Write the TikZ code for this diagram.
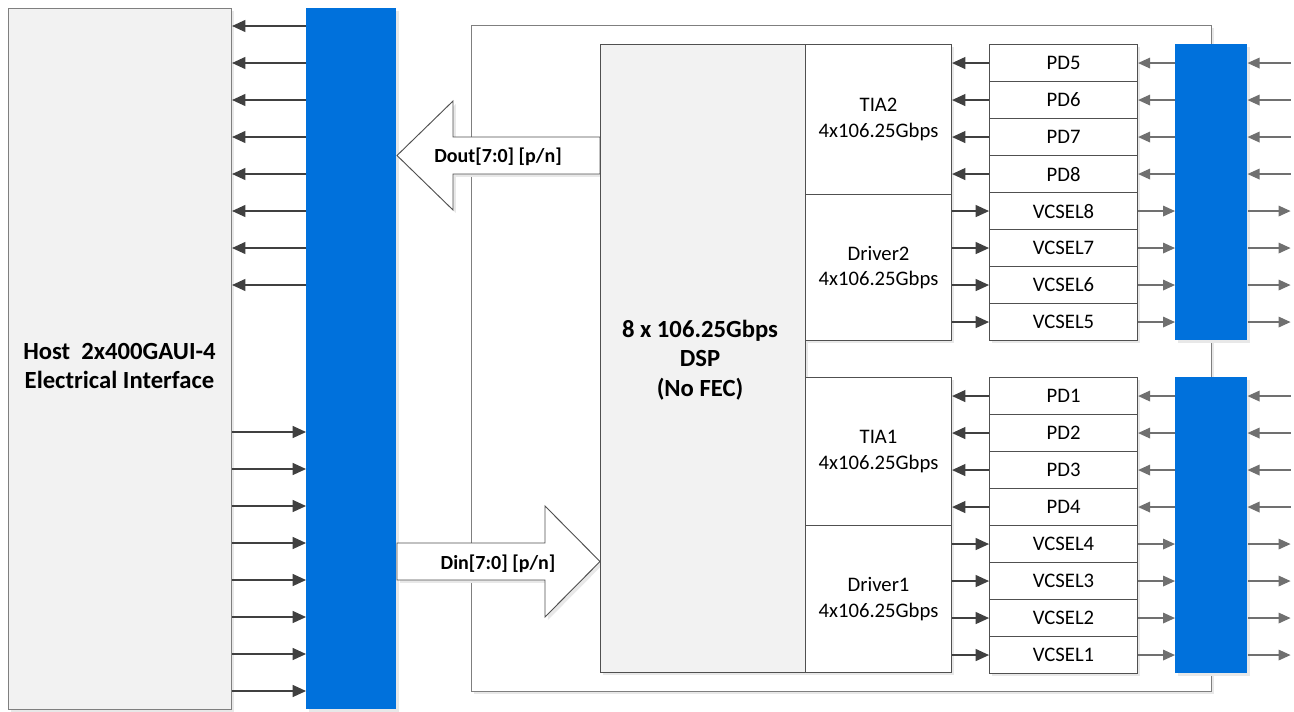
\documentclass[tikz,border=0pt]{standalone}
\usepackage{fontspec}
\setmainfont{Carlito}
\usetikzlibrary{arrows.meta,shadows,calc}
\definecolor{bluebar}{HTML}{0071DC}
\definecolor{boxline}{HTML}{505050}
\definecolor{hostline}{HTML}{7F7F7F}
\definecolor{boxfill}{HTML}{F2F2F2}
\definecolor{darkarr}{HTML}{404040}
\definecolor{grayarr}{HTML}{707070}
\begin{document}
\begin{tikzpicture}[x=0.75pt,y=-0.75pt,
  wh/.style 2 args={minimum width=#1*0.75pt,minimum height=#2*0.75pt},
  shad/.style={drop shadow={shadow xshift=2.2pt,shadow yshift=-2.2pt,fill=black!9,opacity=1}},
  box/.style={draw=boxline,line width=0.8pt,fill=white,inner sep=0pt,anchor=north west,align=center,
    font=\fontsize{15.5}{19}\selectfont,shad},
  graybox/.style={box,fill=boxfill},
  bar/.style={fill=bluebar,draw=none,anchor=north west,inner sep=0pt,shad},
  darr/.style={draw=darkarr,line width=0.9pt,-{Triangle[length=10pt,width=9pt]},fill=darkarr},
  garr/.style={draw=grayarr,line width=0.9pt,-{Triangle[length=9pt,width=8pt]},fill=grayarr},
  bigarr/.style={draw=boxline,line width=0.7pt,fill=white,shad},
  btxt/.style={font=\bfseries\fontsize{15}{21}\selectfont,align=center,inner sep=0pt},
  bigtxt/.style={font=\bfseries\fontsize{18.5}{22.3}\selectfont,align=center,inner sep=0pt}]
\useasboundingbox[fill=white] (0,0) rectangle (1294,711);

% outer module box
\node[box,draw=hostline,wh={740}{666}] (outer) at (471,25) {};

% left blue bar and host
\node[bar,wh={90}{701}] (lbar) at (306,8) {};
\node[graybox,draw=hostline,wh={223}{701}] (host) at (8,8) {};
\node[bigtxt] (hosttxt) at (119.5,366) {Host\ \ 2x400GAUI-4\\Electrical Interface};

% block arrows
\draw[bigarr] (600,137) -- (453,137) -- (453,101) -- (397,155.5) -- (453,210) -- (453,174) -- (600,174) -- cycle;
\node[btxt] (dout) at (498,157) {Dout[7:0] [p/n]};
\draw[bigarr] (397,543) -- (545,543) -- (545,506) -- (600,561.5) -- (545,617) -- (545,580) -- (397,580) -- cycle;
\node[btxt] (din) at (498,564) {Din[7:0] [p/n]};

% DSP and TIA/driver blocks
\node[graybox,wh={205}{628}] (dsp) at (600,44) {};
\node[bigtxt] (dsptxt) at (700,360) {8 x 106.25Gbps\\DSP\\(No FEC)};
\node[box,wh={146}{150}] (tia2) at (805,44) {TIA2\\4x106.25Gbps};
\node[box,wh={146}{146}] (drv2) at (805,194) {Driver2\\4x106.25Gbps};
\node[box,wh={146}{148}] (tia1) at (805,377) {TIA1\\4x106.25Gbps};
\node[box,wh={146}{147}] (drv1) at (805,525) {Driver1\\4x106.25Gbps};

% right blue bars
\node[bar,wh={72}{296}] (rbar1) at (1175,44) {};
\node[bar,wh={72}{296}] (rbar2) at (1175,377) {};

% PD / VCSEL rows
\foreach \nm/\tx [count=\i from 0] in {pd5/PD5,pd6/PD6,pd7/PD7,pd8/PD8,vc8/VCSEL8,vc7/VCSEL7,vc6/VCSEL6,vc5/VCSEL5}{
  \pgfmathsetmacro\yy{44+37*\i}
  \node[box,wh={148}{37}] (\nm) at (989,\yy) {\tx};
}
\foreach \nm/\tx [count=\i from 0] in {pd1/PD1,pd2/PD2,pd3/PD3,pd4/PD4,vc4/VCSEL4,vc3/VCSEL3,vc2/VCSEL2,vc1/VCSEL1}{
  \pgfmathsetmacro\yy{377+37*\i}
  \node[box,wh={148}{37}] (\nm) at (989,\yy) {\tx};
}

% receive lanes
\foreach \p/\t/\b in {pd5/tia2/rbar1,pd6/tia2/rbar1,pd7/tia2/rbar1,pd8/tia2/rbar1,pd1/tia1/rbar2,pd2/tia1/rbar2,pd3/tia1/rbar2,pd4/tia1/rbar2}{
  \draw[darr] (\p.west) -- (\p.west -| \t.east);
  \draw[garr] (\b.west |- \p.east) -- (\p.east);
  \coordinate (\p in) at ($(\b.east |- \p.east)+(43,0)$);
  \draw[garr] (\p in) -- (\b.east |- \p.east);
}
% transmit lanes
\foreach \v/\d/\b in {vc8/drv2/rbar1,vc7/drv2/rbar1,vc6/drv2/rbar1,vc5/drv2/rbar1,vc4/drv1/rbar2,vc3/drv1/rbar2,vc2/drv1/rbar2,vc1/drv1/rbar2}{
  \draw[darr] (\d.east |- \v.west) -- (\v.west);
  \draw[garr] (\v.east) -- (\b.west |- \v.east);
  \coordinate (\v out) at ($(\b.east |- \v.east)+(43,0)$);
  \draw[garr] (\b.east |- \v.east) -- (\v out);
}

% host lanes
\foreach \i in {0,...,7}{
  \pgfmathsetmacro\ya{26+37*\i}
  \pgfmathsetmacro\yb{432+37*\i}
  \coordinate (lo\i) at (0,\ya);
  \coordinate (li\i) at (0,\yb);
  \draw[darr] (lbar.west |- lo\i) -- (host.east |- lo\i);
  \draw[darr] (host.east |- li\i) -- (lbar.west |- li\i);
}
\end{tikzpicture}
\end{document}
